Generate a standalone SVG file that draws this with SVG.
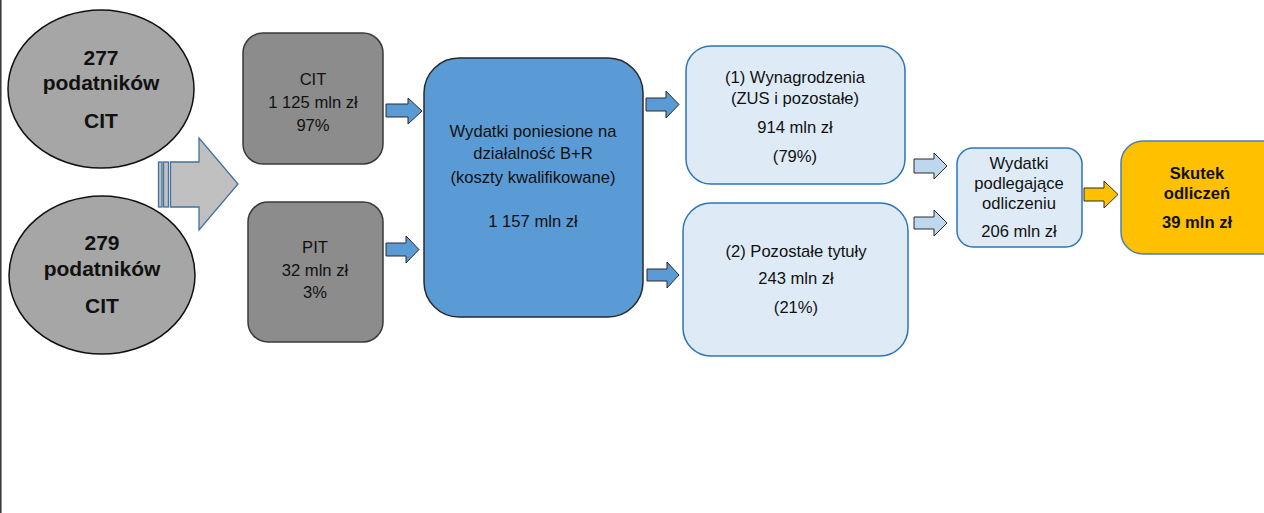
<svg xmlns="http://www.w3.org/2000/svg" width="1264" height="513" viewBox="0 0 1264 513">
<style>
text{font-family:"Liberation Sans",Arial,sans-serif;fill:#111;text-anchor:middle}
.b{font-weight:bold}
.t16{font-size:16.6px}
.t21{font-size:21px;font-weight:bold}
.ell{fill:#a6a6a6;stroke:#111;stroke-width:1.5}
.gbox{fill:#8c8c8c;stroke:#3a3a3a;stroke-width:1.5}
.main{fill:#5b9bd5;stroke:#2a2a2a;stroke-width:1.5}
.lbox{fill:#deebf7;stroke:#2e75b6;stroke-width:1.5}
.ybox{fill:#ffc000;stroke:#4a7ebb;stroke-width:1.5}
.ba{fill:#5b9bd5;stroke:#2a2a2a;stroke-width:1}
.la{fill:#bdd7ee;stroke:#2a2a2a;stroke-width:1}
.ya{fill:#ffc000;stroke:#2a2a2a;stroke-width:1}
.big{fill:#c0c0c0;stroke:#41719c;stroke-width:1.3}
</style>
<rect x="0" y="0" width="1264" height="513" fill="#ffffff"/>
<line x1="0.8" y1="0" x2="0.8" y2="513" stroke="#333" stroke-width="1.5"/>

<g id="e277">
<ellipse class="ell" cx="101" cy="89" rx="93" ry="79"/>
<text class="t21" x="101" y="65">277</text>
<text class="t21" x="101" y="90">podatników</text>
<text class="t21" x="101" y="128">CIT</text>
</g>
<g id="e279">
<ellipse class="ell" cx="102" cy="275" rx="93" ry="79"/>
<text class="t21" x="102" y="250">279</text>
<text class="t21" x="102" y="276">podatników</text>
<text class="t21" x="102" y="313">CIT</text>
</g>

<g id="cit">
<rect class="gbox" x="243" y="33" width="140" height="131" rx="20"/>
<text class="t16" x="313" y="85">CIT</text>
<text class="t16" x="313" y="108">1 125 mln zł</text>
<text class="t16" x="313" y="131">97%</text>
</g>
<g id="pit">
<rect class="gbox" x="248" y="202" width="135" height="140" rx="20"/>
<text class="t16" x="315" y="253">PIT</text>
<text class="t16" x="315" y="276">32 mln zł</text>
<text class="t16" x="315" y="298">3%</text>
</g>

<g id="wydatki">
<rect class="main" x="424" y="58" width="219" height="259" rx="35"/>
<text class="t16" x="533" y="137">Wydatki poniesione na</text>
<text class="t16" x="533" y="159">działalność B+R</text>
<text class="t16" x="533" y="183">(koszty kwalifikowane)</text>
<text class="t16" x="533" y="227">1 157 mln zł</text>
</g>

<g id="wynagrodzenia">
<rect class="lbox" x="686" y="46" width="219" height="138" rx="25"/>
<text class="t16" x="795" y="83">(1) Wynagrodzenia</text>
<text class="t16" x="795" y="104">(ZUS i pozostałe)</text>
<text class="t16" x="795" y="133">914 mln zł</text>
<text class="t16" x="795" y="162">(79%)</text>
</g>
<g id="pozostale">
<rect class="lbox" x="683" y="203" width="225" height="153" rx="28"/>
<text class="t16" x="796" y="257">(2) Pozostałe tytuły</text>
<text class="t16" x="796" y="284">243 mln zł</text>
<text class="t16" x="796" y="313">(21%)</text>
</g>

<g id="podlegajace">
<rect class="lbox" x="957" y="148" width="125" height="99" rx="16"/>
<text class="t16" x="1019" y="169">Wydatki</text>
<text class="t16" x="1019" y="189">podlegające</text>
<text class="t16" x="1019" y="209">odliczeniu</text>
<text class="t16" x="1019" y="237">206 mln zł</text>
</g>

<g id="skutek">
<rect class="ybox" x="1121" y="141" width="170" height="113" rx="22"/>
<text class="t16 b" x="1197" y="179">Skutek</text>
<text class="t16 b" x="1197" y="199">odliczeń</text>
<text class="t16 b" x="1197" y="228">39 mln zł</text>
</g>

<g id="connectors">
<rect class="big" x="158.5" y="162" width="3.5" height="45"/>
<rect class="big" x="163.5" y="162" width="5" height="45"/>
<polygon class="big" points="170.5,162 199,162 199,138 238,184 199,230 199,207 170.5,207"/>
<polygon class="ba" points="386,104 408,104 408,98 422,111 408,124 408,117 386,117"/>
<polygon class="ba" points="386,243 406,243 406,236 419,249.5 406,263 406,256 386,256"/>
<polygon class="ba" points="646,98 666,98 666,91 679,104.5 666,118 666,111 646,111"/>
<polygon class="ba" points="647,269 667,269 667,262 679,275 667,288 667,281 647,281"/>
<polygon class="la" points="914,159 934,159 934,153 947,166 934,179 934,173 914,173"/>
<polygon class="la" points="914,217 934,217 934,210 947,223 934,236 934,229 914,229"/>
<polygon class="ya" points="1084,188 1104,188 1104,181 1118,194.5 1104,208 1104,201 1084,201"/>
</g>
</svg>
